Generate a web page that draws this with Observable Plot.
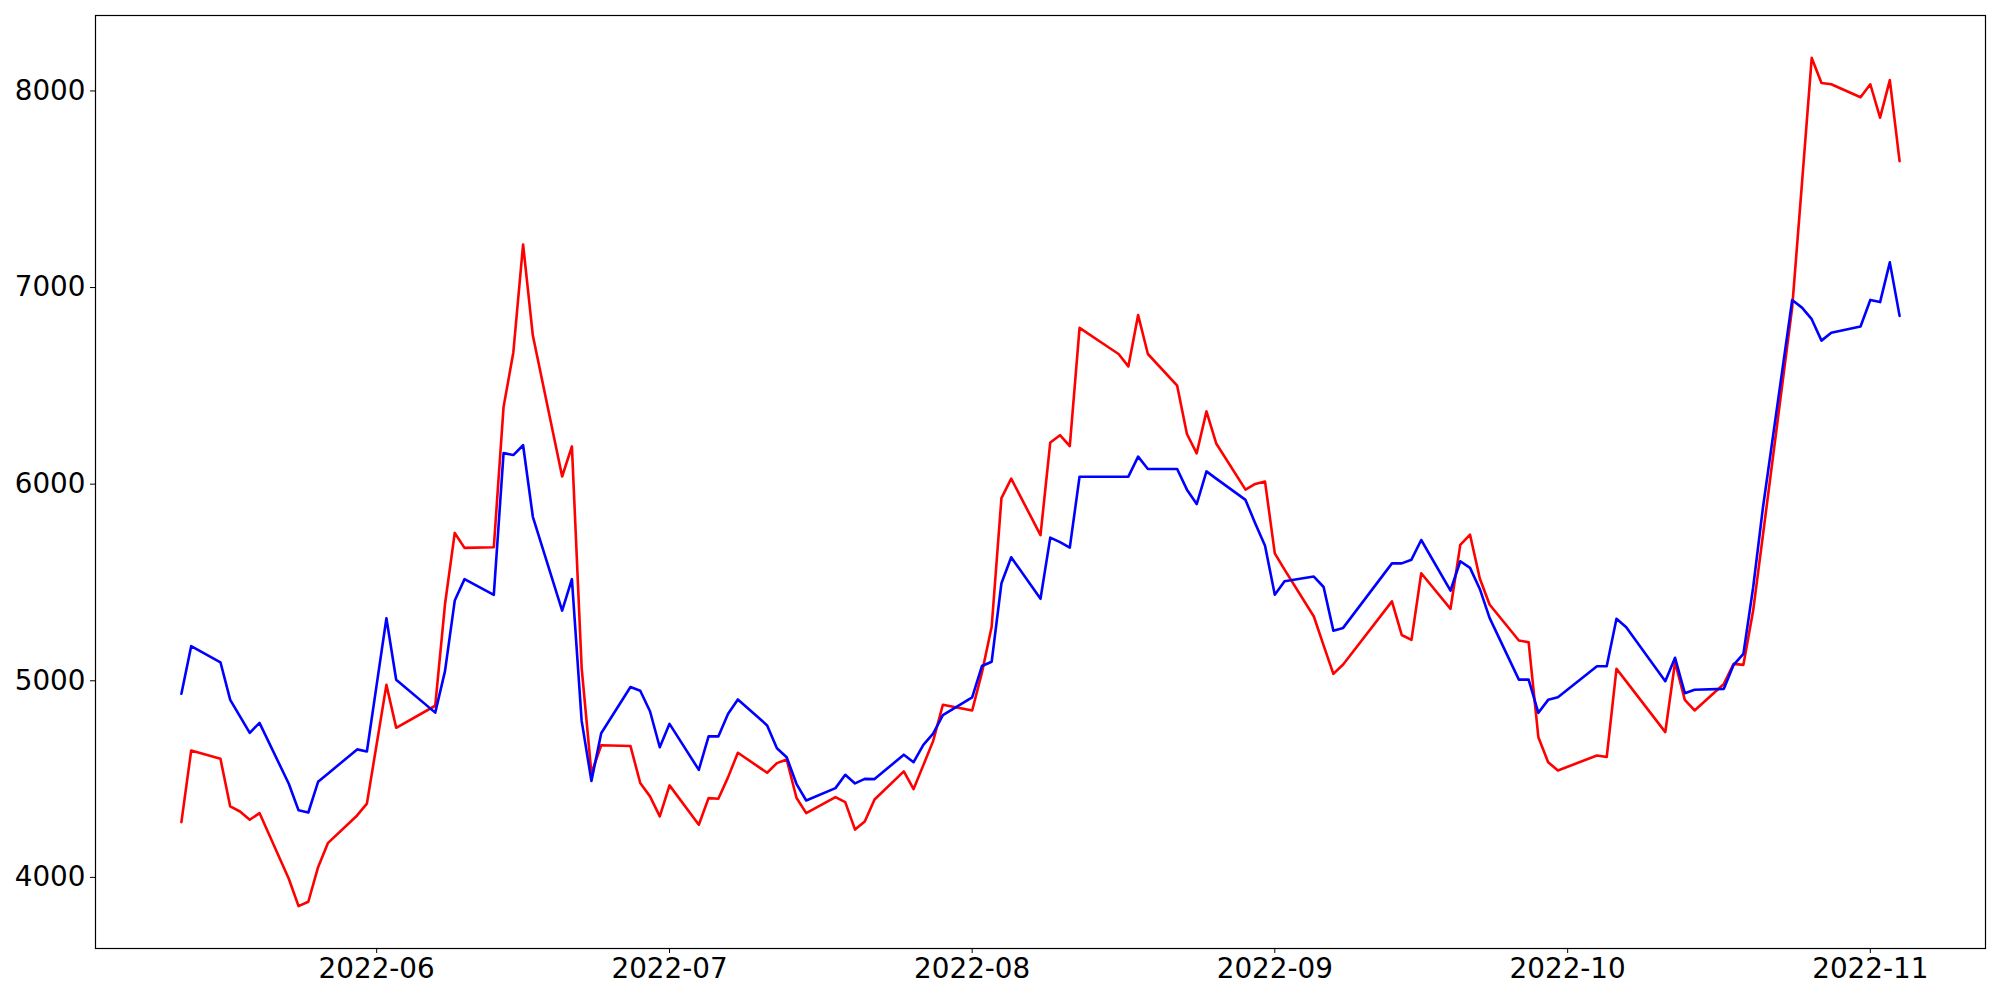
<!DOCTYPE html>
<html>
<head>
<meta charset="utf-8">
<script src="https://cdn.jsdelivr.net/npm/d3@7"></script>
<script src="https://cdn.jsdelivr.net/npm/@observablehq/plot@0.6"></script>
<style>
  html, body { margin: 0; padding: 0; background: #ffffff; }
  #chart svg { display: block; }
</style>
</head>
<body>
<div id="chart"></div>
<script>
// Dates of the observations
const dates = [
  "2022-05-12","2022-05-13","2022-05-16","2022-05-17","2022-05-18","2022-05-19","2022-05-20",
  "2022-05-23","2022-05-24","2022-05-25","2022-05-26","2022-05-27","2022-05-30","2022-05-31",
  "2022-06-01","2022-06-02","2022-06-03","2022-06-07","2022-06-08","2022-06-09","2022-06-10",
  "2022-06-13","2022-06-14","2022-06-15","2022-06-16","2022-06-17","2022-06-20","2022-06-21",
  "2022-06-22","2022-06-23","2022-06-24","2022-06-27","2022-06-28","2022-06-29","2022-06-30",
  "2022-07-01","2022-07-04","2022-07-05","2022-07-06","2022-07-07","2022-07-08","2022-07-11",
  "2022-07-12","2022-07-13","2022-07-14","2022-07-15","2022-07-18","2022-07-19","2022-07-20",
  "2022-07-21","2022-07-22","2022-07-25","2022-07-26","2022-07-27","2022-07-28","2022-07-29",
  "2022-08-01","2022-08-02","2022-08-03","2022-08-04","2022-08-05","2022-08-08","2022-08-09",
  "2022-08-10","2022-08-11","2022-08-12","2022-08-15","2022-08-16","2022-08-17","2022-08-18",
  "2022-08-19","2022-08-22","2022-08-23","2022-08-24","2022-08-25","2022-08-26","2022-08-29",
  "2022-08-30","2022-08-31","2022-09-01","2022-09-02","2022-09-05","2022-09-06","2022-09-07",
  "2022-09-08","2022-09-13","2022-09-14","2022-09-15","2022-09-16","2022-09-19","2022-09-20",
  "2022-09-21","2022-09-22","2022-09-23","2022-09-26","2022-09-27","2022-09-28","2022-09-29",
  "2022-09-30","2022-10-04","2022-10-05","2022-10-06","2022-10-07","2022-10-11","2022-10-12",
  "2022-10-13","2022-10-14","2022-10-17","2022-10-18","2022-10-19","2022-10-20","2022-10-21",
  "2022-10-24","2022-10-25","2022-10-26","2022-10-27","2022-10-28","2022-10-31","2022-11-01",
  "2022-11-02","2022-11-03","2022-11-04"
];

// Blue series
const blueSeries = [
  4934,5176,5094,4903,4819,4735,4786,
  4476,4341,4330,4486,4527,4651,4640,
  4979,5318,5005,4838,5049,5408,5517,
  5437,6158,6148,6198,5834,5357,5517,
  4796,4490,4733,4968,4949,4845,4662,
  4781,4547,4717,4717,4832,4905,4773,
  4657,4611,4476,4391,4454,4522,4478,
  4501,4500,4624,4586,4674,4731,4825,
  4915,5075,5097,5496,5628,5417,5728,
  5705,5677,6038,6038,6038,6038,6140,
  6077,6077,5972,5899,6065,6028,5920,
  5800,5687,5438,5506,5530,5477,5255,
  5269,5597,5597,5616,5716,5459,5608,
  5574,5467,5320,5006,5006,4837,4903,
  4916,5074,5074,5315,5272,4998,5117,
  4937,4954,4959,5081,5137,5475,5880,
  6937,6898,6839,6730,6770,6802,6937,
  6926,7128,6856
];

// Red series
const redSeries = [
  4281,4645,4603,4361,4335,4293,4327,
  3993,3854,3876,4052,4174,4315,4375,
  4677,4979,4761,4873,5389,5752,5676,
  5679,6393,6670,7219,6756,6039,6192,
  5064,4529,4672,4668,4480,4412,4310,
  4468,4268,4403,4400,4510,4634,4532,
  4581,4600,4405,4327,4408,4383,4243,
  4284,4396,4539,4449,4571,4693,4878,
  4849,5041,5276,5929,6028,5741,6212,
  6249,6194,6795,6695,6662,6599,6860,
  6662,6501,6255,6157,6370,6207,5972,
  6001,6013,5648,5565,5327,5180,5035,
  5083,5404,5233,5208,5547,5366,5691,
  5743,5520,5388,5205,5196,4713,4586,
  4544,4620,4612,5061,4997,4739,5094,
  4903,4849,4984,5086,5081,5357,5740,
  6900,7530,8168,8040,8034,7968,8034,
  7864,8055,7643
];

// Tick values
const yTicks = [4000, 5000, 6000, 7000, 8000];
const xTicks = ["2022-06-01","2022-07-01","2022-08-01","2022-09-01","2022-10-01","2022-11-01"];

const parse = d3.utcParse("%Y-%m-%d");
const rows = dates.map((d, i) => ({date: parse(d), red: redSeries[i], blue: blueSeries[i]}));

// matplotlib-like 5% margins
const t0 = rows[0].date, t1 = rows[rows.length - 1].date;
const padT = (t1 - t0) * 0.05;
const all = redSeries.concat(blueSeries);
const lo = d3.min(all), hi = d3.max(all);
const padV = (hi - lo) * 0.05;

const chart = Plot.plot({
  width: 2000,
  height: 1000,
  marginLeft: 95,
  marginRight: 15,
  marginTop: 15,
  marginBottom: 52,
  style: {fontFamily: "DejaVu Sans", fontSize: "27.8px", color: "black", background: "white"},
  x: {
    type: "utc",
    domain: [new Date(+t0 - padT), new Date(+t1 + padT)],
    ticks: xTicks.map(parse),
    tickFormat: d3.utcFormat("%Y-%m"),
    tickSize: 5,
    tickPadding: 5,
    label: null
  },
  y: {
    domain: [lo - padV, hi + padV],
    ticks: yTicks,
    tickFormat: d => String(d),
    tickSize: 5,
    tickPadding: 5,
    label: null
  },
  marks: [
    Plot.line(rows, {x: "date", y: "red", stroke: "red", strokeWidth: 2.6}),
    Plot.line(rows, {x: "date", y: "blue", stroke: "blue", strokeWidth: 2.6}),
    Plot.frame({stroke: "black", strokeWidth: 1.2})
  ]
});

document.getElementById("chart").appendChild(chart);
</script>
</body>
</html>
